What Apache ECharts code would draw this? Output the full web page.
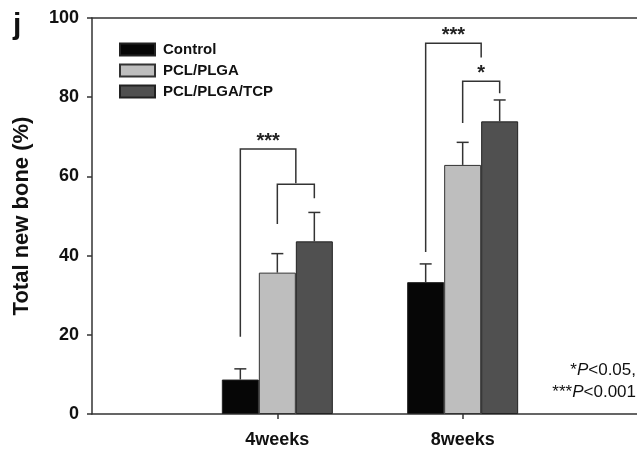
<!DOCTYPE html>
<html>
<head>
<meta charset="utf-8">
<script src="https://cdn.jsdelivr.net/npm/echarts@6/dist/echarts.min.js"></script>
<style>
html, body { margin: 0; padding: 0; background: #fff; }
#chart { width: 637px; height: 452px; }
</style>
</head>
<body>
<div id="chart"></div>
<script>
// categories (first and last are empty slots so the ticks land where the figure has them)
const categories = ['', '4weeks', '8weeks', '']
const groups = ['Control', 'PCL/PLGA', 'PCL/PLGA/TCP']
const yTicks = [0, 20, 40, 60, 80, 100]

// means (%)
const control = ['-', 8.7, 33.3, '-']
const pclPlga = ['-', 35.7, 62.9, '-']
const pclPlgaTcp = ['-', 43.6, 73.9, '-']

// upper error (SD)
const controlSd = [null, 2.7, 4.6, null]
const pclPlgaSd = [null, 4.8, 5.7, null]
const pclPlgaTcpSd = [null, 7.3, 5.4, null]

// significance brackets: [category, from bar, to bar, top, left end, right end, label]
const brackets = [
  [1, 0, 1.5, 66.9, 19.5, 58.3, '***'],
  [1, 1, 2, 58.0, 48.0, 54.5, ''],
  [2, 0, 1.5, 93.6, 40.9, 90.0, '***'],
  [2, 1, 2, 84.0, 73.5, 81.0, '*']
]

const BAR_W = 37
const FONT = 'Arial, "Liberation Sans", sans-serif'
const colors = ['#060606', '#bebebe', '#505050']
const LINE = { color: '#333', width: 1.5 }

const means = [control, pclPlga, pclPlgaTcp]
const sds = [controlSd, pclPlgaSd, pclPlgaTcpSd]
const errData = []
for (let s = 0; s < 3; s++) {
  for (let i = 0; i < categories.length; i++) {
    if (sds[s][i] != null) errData.push([i, s, means[s][i], sds[s][i]])
  }
}

const chart = echarts.init(document.getElementById('chart'))

chart.setOption({
  animation: false,
  color: colors,
  grid: [
    { left: 92, right: -11, top: 18, bottom: 38, outerBoundsMode: 'none', containLabel: false },
    // frame grid: only used for the full-width top and bottom lines
    { left: 92, right: 0, top: 18, bottom: 38, outerBoundsMode: 'none', containLabel: false }
  ],
  legend: {
    data: groups,
    orient: 'vertical',
    left: 114,
    top: 37,
    itemWidth: 35,
    itemHeight: 12,
    itemGap: 6,
    icon: 'rect',
    textStyle: { fontFamily: FONT, fontWeight: 'bold', fontSize: 15, color: '#111', padding: [0, 0, 0, 3] }
  },
  xAxis: [{
    type: 'category',
    gridIndex: 0,
    data: categories,
    boundaryGap: false,
    axisLine: { show: false },
    axisTick: {
      show: true,
      length: 5,
      lineStyle: LINE,
      interval: function (idx, val) { return val !== '' }
    },
    axisLabel: { fontFamily: FONT, fontWeight: 'bold', fontSize: 18, color: '#111', margin: 17 },
    splitLine: { show: false }
  }, {
    type: 'value',
    gridIndex: 1,
    position: 'bottom',
    axisLine: { show: true, onZero: false, lineStyle: LINE },
    axisTick: { show: false },
    axisLabel: { show: false },
    splitLine: { show: false }
  }, {
    type: 'value',
    gridIndex: 1,
    position: 'top',
    axisLine: { show: true, onZero: false, lineStyle: LINE },
    axisTick: { show: false },
    axisLabel: { show: false },
    splitLine: { show: false }
  }],
  yAxis: [{
    type: 'value',
    gridIndex: 0,
    min: 0,
    max: 100,
    interval: 20,
    name: 'Total new bone (%)',
    nameLocation: 'middle',
    nameGap: 59,
    nameTextStyle: { fontFamily: FONT, fontWeight: 'bold', fontSize: 22, color: '#111' },
    axisLine: { show: true, lineStyle: LINE },
    axisTick: { show: true, length: 5, lineStyle: LINE },
    axisLabel: {
      fontFamily: FONT, fontWeight: 'bold', fontSize: 18, color: '#111', margin: 13,
      formatter: function (v) { return yTicks.indexOf(v) >= 0 ? String(v) : '' }
    },
    splitLine: { show: false }
  }, {
    type: 'value',
    gridIndex: 1,
    show: false
  }],
  series: [
    {
      name: groups[0], type: 'bar', data: control, barWidth: BAR_W, barGap: '0%',
      itemStyle: { color: colors[0], borderColor: '#222', borderWidth: 1 }
    },
    {
      name: groups[1], type: 'bar', data: pclPlga, barWidth: BAR_W, barGap: '0%',
      itemStyle: { color: colors[1], borderColor: '#333', borderWidth: 1 }
    },
    {
      name: groups[2], type: 'bar', data: pclPlgaTcp, barWidth: BAR_W, barGap: '0%',
      itemStyle: { color: colors[2], borderColor: '#222', borderWidth: 1 }
    },
    {
      type: 'custom',
      z: 5,
      data: errData,
      encode: { x: 0, y: 2 },
      renderItem: function (params, api) {
        const base = api.coord([api.value(0), api.value(2)])
        const top = api.coord([api.value(0), api.value(2) + api.value(3)])
        const x = base[0] + (api.value(1) - 1) * BAR_W
        const st = { stroke: '#333', lineWidth: 1.5 }
        return {
          type: 'group',
          children: [
            { type: 'line', shape: { x1: x, y1: base[1], x2: x, y2: top[1] }, style: st },
            { type: 'line', shape: { x1: x - 6, y1: top[1], x2: x + 6, y2: top[1] }, style: st }
          ]
        }
      }
    },
    {
      type: 'custom',
      z: 5,
      data: brackets.map(b => [b[0], b[1], b[2], b[3], b[4], b[5]]),
      encode: { x: 0, y: 3 },
      renderItem: function (params, api) {
        const b = brackets[params.dataIndex]
        const c = api.coord([b[0], b[3]])
        const x1 = c[0] + (b[1] - 1) * BAR_W
        const x2 = c[0] + (b[2] - 1) * BAR_W
        const yTop = c[1]
        const yL = api.coord([b[0], b[4]])[1]
        const yR = api.coord([b[0], b[5]])[1]
        const st = { stroke: '#333', lineWidth: 1.5 }
        const children = [
          { type: 'polyline', shape: { points: [[x1, yL], [x1, yTop], [x2, yTop], [x2, yR]] }, style: Object.assign({ fill: null }, st) }
        ]
        if (b[6]) {
          children.push({
            type: 'text',
            style: {
              text: b[6], x: (x1 + x2) / 2, y: yTop - 8,
              align: 'center', verticalAlign: 'middle',
              font: 'bold 20px ' + FONT, fill: '#222'
            }
          })
        }
        return { type: 'group', children: children }
      }
    }
  ],
  graphic: [
    {
      type: 'text', left: 13, top: 11,
      style: { text: 'j', font: 'bold 30px ' + FONT, fill: '#111' }
    },
    {
      type: 'text', right: 1, top: 362,
      style: {
        text: '{a|*}{i|P}{a|<0.05,}',
        rich: {
          a: { font: '17px ' + FONT, fill: '#111' },
          i: { font: 'italic 17px ' + FONT, fill: '#111' }
        }
      }
    },
    {
      type: 'text', right: 1, top: 384,
      style: {
        text: '{a|***}{i|P}{a|<0.001}',
        rich: {
          a: { font: '17px ' + FONT, fill: '#111' },
          i: { font: 'italic 17px ' + FONT, fill: '#111' }
        }
      }
    }
  ]
})
</script>
</body>
</html>
